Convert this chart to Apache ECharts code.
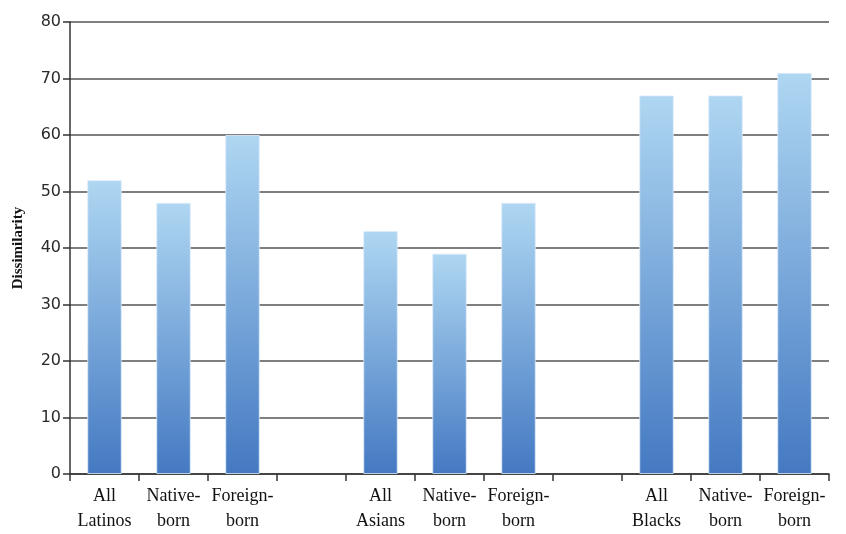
<!DOCTYPE html>
<html><head><meta charset="utf-8">
<script src="https://cdn.jsdelivr.net/npm/echarts@6/dist/echarts.min.js"></script>
<style>html,body{margin:0;padding:0;background:#fff}#c{width:846px;height:534px}</style>
</head><body><div id="c"></div>
<script>
const categories = ["All\nLatinos","Native-\nborn","Foreign-\nborn","","All\nAsians","Native-\nborn","Foreign-\nborn","","All\nBlacks","Native-\nborn","Foreign-\nborn"];
const dissimilarity = [52,48,60,null,43,39,48,null,67,67,71];
const yTicks = {min:0,max:80,interval:10};
const yTitle = "Dissimilarity";

const chart = echarts.init(document.getElementById('c'));
chart.setOption({
  animation:false,
  grid:{left:70,right:17,top:22,bottom:59},
  xAxis:{type:'category',data:categories,
    axisLine:{show:true,lineStyle:{color:'#333',width:1.5}},
    axisTick:{show:true,alignWithLabel:false,length:7,lineStyle:{color:'#333',width:1.5}},
    axisLabel:{interval:0,fontFamily:'Liberation Serif',fontSize:18,color:'#111',lineHeight:25,margin:10}
  },
  yAxis:{type:'value',min:yTicks.min,max:yTicks.max,interval:yTicks.interval,
    name:yTitle,nameLocation:'middle',nameGap:44,
    nameTextStyle:{fontFamily:'Liberation Serif',fontWeight:'bold',fontSize:15,color:'#111'},
    axisLine:{show:true,lineStyle:{color:'#333',width:1.5}},
    axisTick:{show:true,length:7,lineStyle:{color:'#333',width:1.5}},
    axisLabel:{fontFamily:'DejaVu Sans',fontSize:16,color:'#2a2a2a',margin:9},
    splitLine:{lineStyle:{color:'#555',width:1.6}}
  },
  series:[{type:'bar',data:dissimilarity,barWidth:'50%',
    itemStyle:{borderColor:'rgba(220,235,250,0.8)',borderWidth:1,
      color:new echarts.graphic.LinearGradient(0,0,0,1,[{offset:0,color:'#afd7f2'},{offset:1,color:'#4479c2'}])}
  }]
});
</script></body></html>
